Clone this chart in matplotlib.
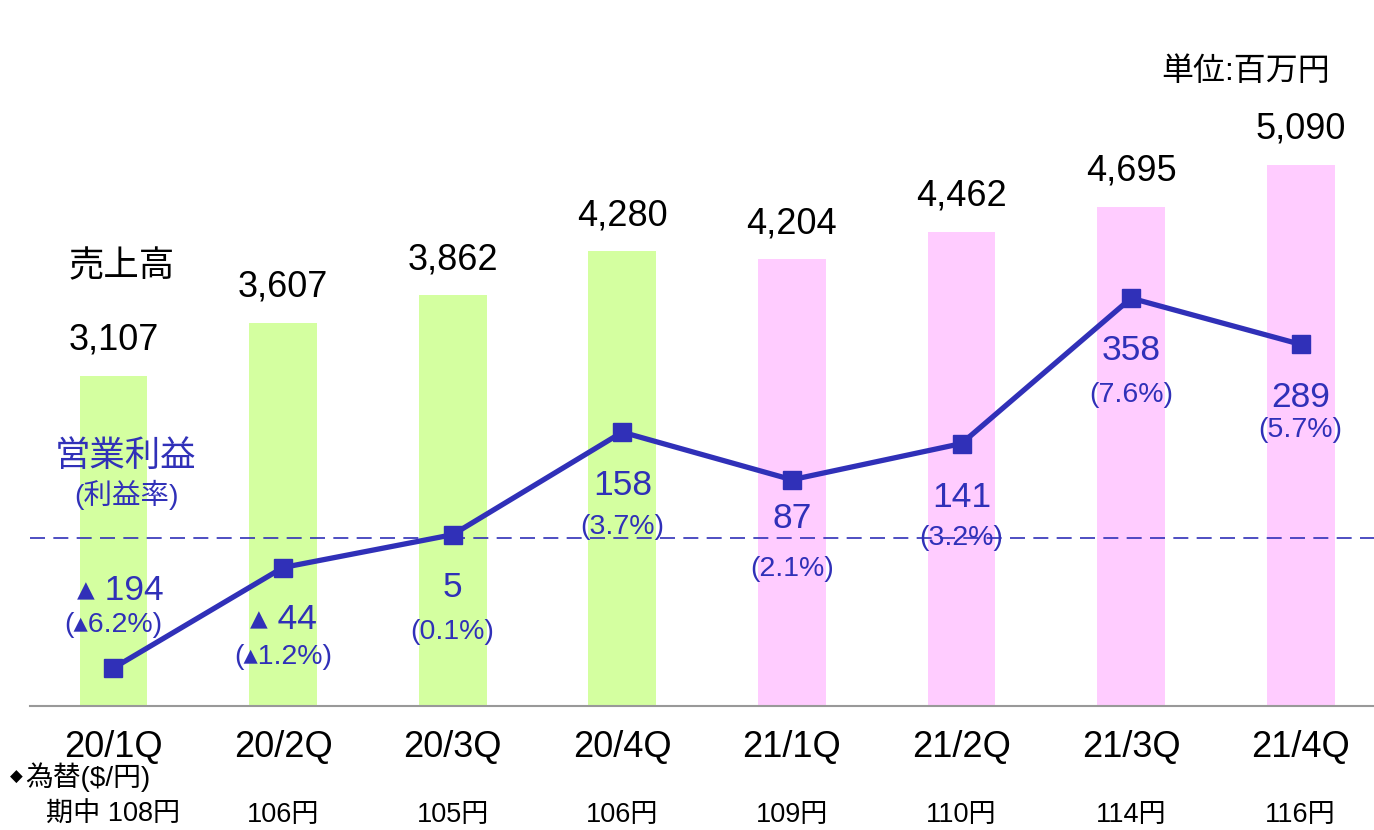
import numpy as np
import matplotlib
matplotlib.use("Agg")
import matplotlib.pyplot as plt
import matplotlib.transforms as mtransforms

# ── Data ──────────────────────────────────────────────────────────────────────
quarters = ["20/1Q", "20/2Q", "20/3Q", "20/4Q", "21/1Q", "21/2Q", "21/3Q", "21/4Q"]
sales    = [3107, 3607, 3862, 4280, 4204, 4462, 4695, 5090]
op_profit = [-194, -44, 5, 158, 87, 141, 358, 289]
op_margin = [-6.2, -1.2, 0.1, 3.7, 2.1, 3.2, 7.6, 5.7]
fx_rate   = [108, 106, 105, 106, 109, 110, 114, 116]

# label offsets (pixels, relative to the marker) for profit value / margin
val_dy = [78, -52, -53, -53, -39, -54, -52, -53]
pct_dy = [43, -89, -97, -95, -89, -94, -97, -86]
val_dx = [15, 8, 0, 0, 0, 0, 0, 0]

GREEN = "#D4FFA0"
PINK  = "#FFCCFF"
BLUE  = "#3030B8"
FONT  = ["Liberation Sans", "DejaVu Sans", "Noto Sans CJK JP"]
plt.rcParams["font.family"] = FONT

W, H = 1374, 830
fig = plt.figure(figsize=(W / 100, H / 100), dpi=100)
ax = fig.add_axes([30 / W, 124 / H, 1344 / W, 706 / H])
ax2 = ax.twinx()

x = np.arange(len(quarters))
colors = [GREEN if q.startswith("20") else PINK for q in quarters]

ax.bar(x, sales, width=0.4, color=colors, zorder=1)
ax.set_xlim(-0.492, 7.432)
ax.set_ylim(0, 6642)
ax.set_yticks([])
for s in ["top", "left", "right"]:
    ax.spines[s].set_visible(False)
ax.spines["bottom"].set_color("#999999")
ax.spines["bottom"].set_linewidth(1.5)
ax.set_xticks(x)
ax.set_xticklabels(quarters, fontsize=26)
ax.tick_params(axis="x", length=0, pad=17)

for xi, v in zip(x, sales):
    ax.annotate(f"{v:,}", (xi, v), xytext=(0, 26), textcoords="offset pixels",
                ha="center", va="baseline", fontsize=26, color="black")

# ── Operating profit line ────────────────────────────────────────────────────
ax2.set_ylim(-250.7, 803)
ax2.set_yticks([])
for s in ax2.spines.values():
    s.set_visible(False)
ax2.axhline(0, color=BLUE, lw=1.2, ls=(0, (9, 5)), zorder=2)
ax2.plot(x, op_profit, color=BLUE, lw=3.8, marker="s", markersize=13.5, zorder=3)

for xi, v, m, dy, py, dx in zip(x, op_profit, op_margin, val_dy, pct_dy, val_dx):
    vtxt = f"▴ {abs(v)}" if v < 0 else f"{v}"
    ptxt = f"(▴{abs(m):.1f}%)" if m < 0 else f"({m:.1f}%)"
    ax2.annotate(vtxt, (xi, v), xytext=(dx - (8 if v < 0 else 0), dy), textcoords="offset pixels",
                 ha="center", va="center", fontsize=25.5, color=BLUE)
    ax2.annotate(ptxt, (xi, v), xytext=(0, py), textcoords="offset pixels",
                 ha="center", va="center", fontsize=20.5, color=BLUE)

# ── Captions ─────────────────────────────────────────────────────────────────
fig.text(122 / W, 1 - 267 / H, "売上高", ha="center", va="center", fontsize=25.5, color="black")
fig.text(125 / W, 1 - 456 / H, "営業利益", ha="center", va="center", fontsize=25.5, color=BLUE)
fig.text(126 / W, 1 - 495 / H, "(利益率)", ha="center", va="center", fontsize=20.5, color=BLUE)
fig.text(1330 / W, 1 - 72 / H, "単位:百万円", ha="right", va="center", fontsize=23, color="black")

# exchange rate rows
fig.text(16 / W, 1 - 777 / H, "◆", ha="center", va="center", fontsize=12, color="black")
fig.text(25 / W, 1 - 777 / H, "為替(\\$/円)", ha="left", va="center", fontsize=20, color="black")
trans = mtransforms.blended_transform_factory(ax.transData, fig.transFigure)
for i, (xi, r) in enumerate(zip(x, fx_rate)):
    txt = f"期中 {r}円" if i == 0 else f"{r}円"
    fig.text(xi, 1 - 815 / H, txt, transform=trans, ha="center", va="center",
             fontsize=19.5, color="black")

fig.savefig("out.png", dpi=100, facecolor="white")
